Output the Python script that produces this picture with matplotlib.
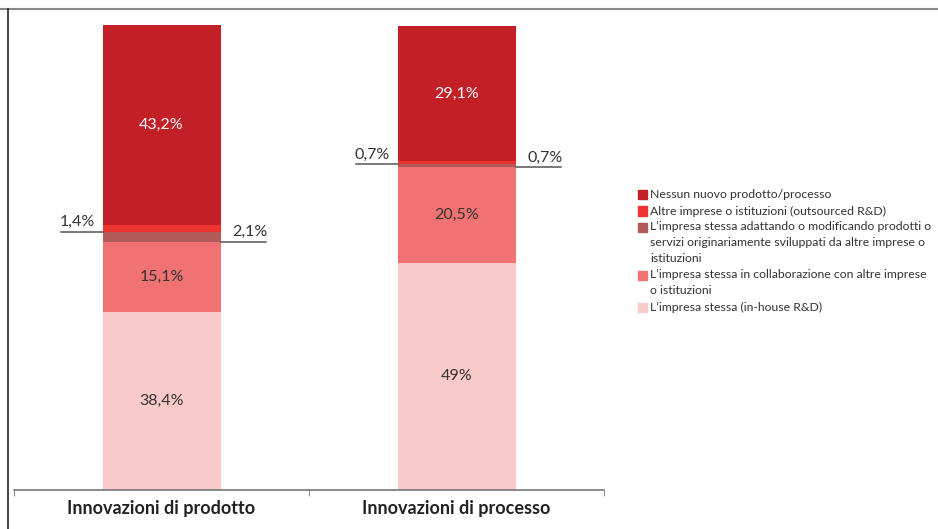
import numpy as np
import matplotlib.pyplot as plt
from matplotlib.lines import Line2D
from matplotlib.patches import Rectangle

plt.rcParams['font.family'] = ['Lato', 'DejaVu Sans']

categories = ['Innovazioni di prodotto', 'Innovazioni di processo']
# stacked bottom -> top
series = [
    "L’impresa stessa (in-house R&D)",
    "L’impresa stessa in collaborazione con altre imprese\no istituzioni",
    "L’impresa stessa adattando o modificando prodotti o\nservizi originariamente sviluppati da altre imprese o\nistituzioni",
    "Altre imprese o istituzioni (outsourced R&D)",
    "Nessun nuovo prodotto/processo",
]
values = [
    [38.4, 49.0],
    [15.1, 20.5],
    [2.1, 0.7],
    [1.4, 0.7],
    [43.2, 29.1],
]
labels = [
    ['38,4%', '49%'],
    ['15,1%', '20,5%'],
    ['2,1%', '0,7%'],
    ['1,4%', '0,7%'],
    ['43,2%', '29,1%'],
]
colors = ['#F9CACA', '#F07272', '#B05A5A', '#EE3333', '#C21F26']
text_colors = ['#333333', '#333333', '#333333', '#333333', 'white']

W, H = 938, 529
fig = plt.figure(figsize=(W / 100, H / 100), dpi=100)
ax = fig.add_axes([14 / W, 1 - 490 / H, 590 / W, 465 / H])

x = np.arange(len(categories))
width = 0.4
bottom = np.zeros(len(categories))
for i, name in enumerate(series):
    vals = np.array(values[i])
    ax.bar(x, vals, width, bottom=bottom, color=colors[i], edgecolor='none',
           label=name)
    for j in range(len(categories)):
        if vals[j] >= 5:
            ax.text(x[j], bottom[j] + vals[j] / 2, labels[i][j], ha='center',
                    va='center', fontsize=11.5, color=text_colors[i])
        else:
            # small segments: label on a leader line at segment bottom
            y0 = bottom[j]
            if i == 3:  # left side
                x1, x2 = x[j] - width / 2 - 0.14, x[j] - width / 2
                ax.plot([x1, x2], [y0, y0], color='#555555', lw=1.1, clip_on=False)
                ax.text(x1 - 0.005, y0 + 0.6, labels[i][j], ha='left', va='bottom',
                        fontsize=11.5, color='#333333')
            else:
                x1, x2 = x[j] + width / 2, x[j] + width / 2 + 0.155
                ax.plot([x1, x2], [y0, y0], color='#555555', lw=1.1, clip_on=False)
                ax.text(x2 + 0.005, y0 + 0.6, labels[i][j], ha='right', va='bottom',
                        fontsize=11.5, color='#333333')
    bottom += vals

ax.set_xlim(-0.5, 1.5)
ax.set_ylim(0, 100.2)
ax.set_yticks([])
ax.set_xticks(x)
ax.set_xticklabels(categories, fontsize=13, fontweight='bold', color='#222222')
ax.tick_params(axis='x', which='major', length=0, pad=7)
ax.set_xticks([-0.5, 0.5, 1.5], minor=True)
ax.tick_params(axis='x', which='minor', length=4, color='#777777', direction='out')
for s in ['top', 'right', 'left']:
    ax.spines[s].set_visible(False)
ax.spines['bottom'].set_color('#777777')
ax.spines['bottom'].set_linewidth(1.2)

# legend drawn by hand: one text per line, swatch on first line of each entry
line_h = 16
y_line = 195
for i in range(len(series) - 1, -1, -1):
    rows = series[i].split('\n')
    fig.add_artist(Rectangle((638 / W, 1 - (y_line + 4.5) / H), 9 / W, 9 / H,
                             transform=fig.transFigure, color=colors[i]))
    for r in rows:
        fig.text(650 / W, 1 - y_line / H, r, ha='left', va='center',
                 fontsize=8.8, color='#333333')
        y_line += line_h

# outer frame lines
fig.add_artist(Line2D([0, 1], [1 - 8.5 / H] * 2, color='#888888', lw=1.5))
fig.add_artist(Line2D([7.5 / W] * 2, [0, 1 - 8.5 / H], color='#222222', lw=1.2))

fig.savefig('out.png', dpi=100)
